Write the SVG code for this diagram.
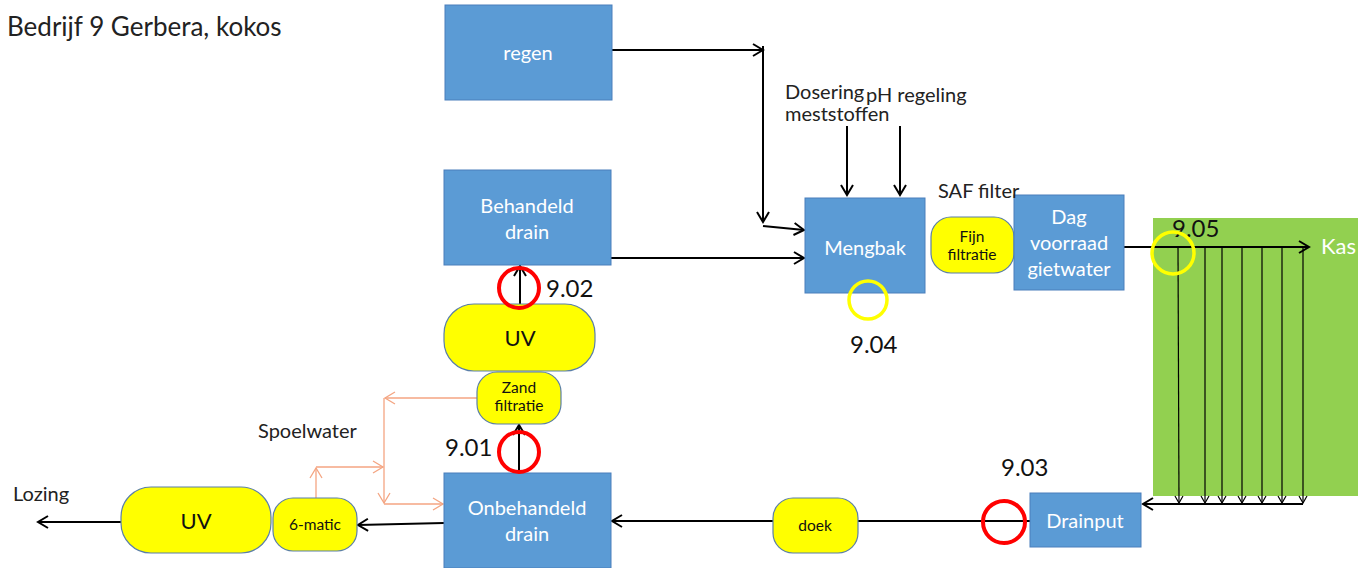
<svg xmlns="http://www.w3.org/2000/svg" width="1358" height="568" viewBox="0 0 1358 568">
<style>
text{font-family:Lato,"Open Sans","Liberation Sans",sans-serif}
.box{fill:#5B9BD5;stroke:#4A7EBB;stroke-width:1}
.pill{fill:#FFFF00;stroke:#5B7FA8;stroke-width:1.2}
.wt{fill:#fff;font-size:20px;text-anchor:middle}
.bt{fill:#111;text-anchor:middle}
.sm{font-size:15.5px}
.lbl{fill:#222;font-size:20px}
.num{fill:#111;font-size:24px}
.ln{fill:none;stroke:#000;stroke-width:2;marker-end:url(#ah)}
.thin{fill:none;stroke:#000;stroke-width:1.2;marker-end:url(#ahs)}
.or{fill:none;stroke:#F4A582;stroke-width:1.3}
.rc{fill:none;stroke:#FF0000;stroke-width:4}
.yc{fill:none;stroke:#FFFF00;stroke-width:3.5}
</style>
<defs>
<marker id="ah" markerUnits="userSpaceOnUse" markerWidth="16" markerHeight="16" refX="12" refY="8" orient="auto">
<path d="M2,2 L12,8 L2,14" fill="none" stroke="#000" stroke-width="2"/>
</marker>
<marker id="ahs" markerUnits="userSpaceOnUse" markerWidth="10" markerHeight="10" refX="8" refY="5" orient="auto">
<path d="M1,1 L8,5 L1,9" fill="none" stroke="#000" stroke-width="1.2"/>
</marker>
<marker id="aho" markerUnits="userSpaceOnUse" markerWidth="14" markerHeight="14" refX="11" refY="7" orient="auto">
<path d="M1,1 L11,7 L1,13" fill="none" stroke="#F4A582" stroke-width="1.3"/>
</marker>
</defs>
<rect width="1358" height="568" fill="#fff"/>
<text x="7" y="36" style="font-size:26px;fill:#222">Bedrijf 9 Gerbera, kokos</text>

<g id="kas">
<rect x="1153" y="218" width="205" height="278" fill="#92D050"/>
<text x="1321" y="254" style="fill:#fff;font-size:22px">Kas</text>
</g>

<g id="connectors">
<polyline class="ln" points="612,50 763,50"/>
<path d="M763,46 L763,222" fill="none" stroke="#000" stroke-width="2" marker-end="url(#ah)"/>
<polyline class="ln" points="763,226 804,230"/>
<polyline class="ln" points="611,258 804,258"/>
<polyline class="ln" points="847,126 847,195"/>
<polyline class="ln" points="900,126 900,195"/>
<polyline class="ln" points="1124,247 1309,247"/>
<polyline class="thin" points="1178,247 1179,503"/>
<polyline class="thin" points="1205,247 1205,503"/>
<polyline class="thin" points="1222,247 1222,503"/>
<polyline class="thin" points="1242,247 1242,503"/>
<polyline class="thin" points="1262,247 1262,503"/>
<polyline class="thin" points="1282,247 1282,503"/>
<polyline class="thin" points="1303,247 1303,503"/>
<polyline class="ln" points="1303,504 1143,504"/>
<polyline class="ln" points="1030,521 612,521"/>
<polyline class="ln" points="444,523 358,525"/>
<polyline class="ln" points="121,522 38,522"/>
<polyline class="ln" points="520,304 520,266"/>
<polyline class="ln" points="519,473 519,425"/>
<polyline class="or" points="477,398 385,398" marker-end="url(#aho)"/>
<polyline class="or" points="384,398 384,503" marker-end="url(#aho)"/>
<polyline class="or" points="384,504 443,504" marker-end="url(#aho)"/>
<polyline class="or" points="316,498 316,468" marker-end="url(#aho)"/>
<polyline class="or" points="316,467 383,467" marker-end="url(#aho)"/>
</g>

<g id="regen"><rect class="box" x="445" y="5" width="167" height="95"/><text class="wt" x="528" y="60">regen</text></g>
<g id="behandeld"><rect class="box" x="444" y="170" width="167" height="95"/><text class="wt" x="527" y="213">Behandeld</text><text class="wt" x="527" y="239">drain</text></g>
<g id="mengbak"><rect class="box" x="805" y="198" width="120" height="95"/><text class="wt" x="865" y="255">Mengbak</text></g>
<g id="fijn"><rect class="pill" x="931" y="217" width="83" height="56" rx="20"/><text class="bt sm" x="972" y="242">Fijn</text><text class="bt sm" x="972" y="260">filtratie</text></g>
<g id="dag"><rect class="box" x="1014" y="195" width="110" height="95"/><text class="wt" x="1069" y="224">Dag</text><text class="wt" x="1069" y="250">voorraad</text><text class="wt" x="1069" y="276">gietwater</text></g>
<g id="uv1"><rect class="pill" x="444" y="304" width="151" height="67" rx="30"/><text class="bt" x="520" y="346" style="font-size:22px">UV</text></g>
<g id="zand"><rect class="pill" x="477" y="372" width="84" height="52" rx="20"/><text class="bt sm" x="519" y="393">Zand</text><text class="bt sm" x="519" y="411">filtratie</text></g>
<g id="onbehandeld"><rect class="box" x="444" y="473" width="167" height="95"/><text class="wt" x="527" y="515">Onbehandeld</text><text class="wt" x="527" y="541">drain</text></g>
<g id="sixmatic"><rect class="pill" x="273" y="498" width="84" height="53" rx="20"/><text class="bt sm" x="315" y="530">6-matic</text></g>
<g id="uv2"><rect class="pill" x="121" y="487" width="150" height="66" rx="30"/><text class="bt" x="196" y="529" style="font-size:22px">UV</text></g>
<g id="doek"><rect class="pill" x="773" y="498" width="85" height="55" rx="20"/><text class="bt sm" x="815" y="531">doek</text></g>
<g id="drainput"><rect class="box" x="1030" y="493" width="111" height="54"/><text class="wt" x="1085" y="528">Drainput</text></g>

<g id="labels">
<text class="lbl" x="785" y="99">Dosering</text>
<text class="lbl" x="785" y="121">meststoffen</text>
<text class="lbl" x="866" y="102">pH regeling</text>
<text class="lbl" x="938" y="198">SAF filter</text>
<text class="lbl" x="258" y="438">Spoelwater</text>
<text class="lbl" x="13" y="501">Lozing</text>
<text class="num" x="546" y="297">9.02</text>
<text class="num" x="445" y="456">9.01</text>
<text class="num" x="850" y="353">9.04</text>
<text class="num" x="1001" y="476">9.03</text>
<text class="num" x="1172" y="237">9.05</text>
</g>

<g id="markers">
<circle class="rc" cx="519" cy="288" r="20"/>
<circle class="rc" cx="519" cy="452" r="20"/>
<circle class="rc" cx="1004" cy="522" r="21"/>
<circle class="yc" cx="868" cy="300" r="19"/>
<circle class="yc" cx="1173" cy="253" r="21"/>
</g>
</svg>
